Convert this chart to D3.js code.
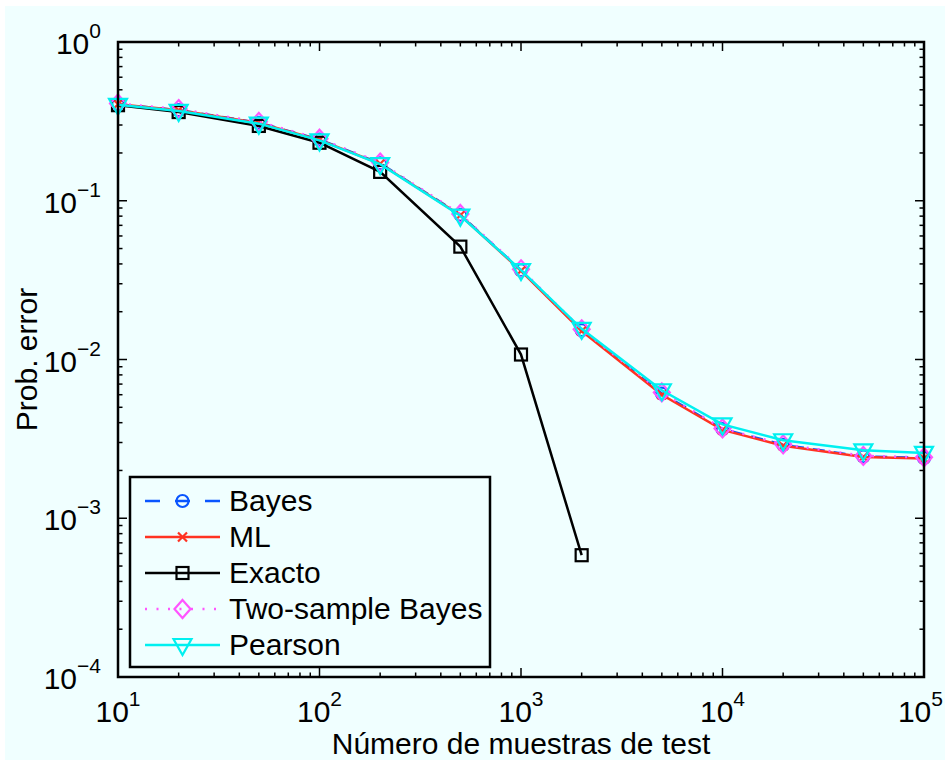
<!DOCTYPE html>
<html>
<head>
    <meta charset="utf-8">
    <title>Prob. error</title>
    <script src="https://d3js.org/d3.v7.min.js"></script>
    <style>
        body { margin: 0; background: #fff; }
        svg text { font-family: "Liberation Sans", Arial, sans-serif; fill: #000; }
    </style>
</head>
<body>
    <svg></svg>
    <script>
        // Datos
        const muestras = [10, 20, 50, 100, 200, 500, 1000, 2000, 5000, 10000, 20000, 50000, 100000];
        const bayes    = [0.405, 0.372, 0.310, 0.243, 0.172, 0.0815, 0.0365, 0.0153, 0.0061, 0.00365, 0.00290, 0.00245, 0.00240];
        const ml       = [0.405, 0.372, 0.309, 0.242, 0.171, 0.0810, 0.0362, 0.0151, 0.0060, 0.00360, 0.00286, 0.00243, 0.00238];
        const exactoX  = [10, 20, 50, 100, 200, 500, 1000, 2000];
        const exacto   = [0.400, 0.362, 0.296, 0.232, 0.152, 0.0514, 0.01075, 0.000585];
        const twoBayes = [0.410, 0.378, 0.314, 0.246, 0.174, 0.0825, 0.0370, 0.0155, 0.0062, 0.00368, 0.00292, 0.00247, 0.00242];
        const pearson  = [0.402, 0.368, 0.306, 0.240, 0.170, 0.0805, 0.0366, 0.0156, 0.0064, 0.00390, 0.00310, 0.00268, 0.00258];

        const yTicks = [1, 0.1, 0.01, 0.001, 0.0001];
        const xTicks = [10, 100, 1000, 10000, 100000];

        const width = 945, height = 760;
        const margin = { left: 118, right: 21, top: 42, bottom: 83 };

        const svg = d3.select("svg").attr("width", width).attr("height", height);

        // fondo de la figura
        svg.append("rect")
            .attr("x", 5).attr("y", 6)
            .attr("width", width - 5).attr("height", height - 6)
            .attr("fill", "#f0ffff");

        const x = d3.scaleLog().domain([10, 1e5]).range([margin.left, width - margin.right]);
        const y = d3.scaleLog().domain([1e-4, 1]).range([height - margin.bottom, margin.top]);

        const x0 = x.range()[0], x1 = x.range()[1];
        const y0 = y.range()[0], y1 = y.range()[1];

        // Marcas menores y mayores (hacia dentro, en los cuatro lados)
        const ticksG = svg.append("g").attr("stroke", "#000").attr("stroke-width", 1.5);
        const minorX = [], minorY = [];
        for (let e = 1; e < 5; e++) for (let k = 2; k < 10; k++) minorX.push(k * Math.pow(10, e));
        for (let e = -4; e < 0; e++) for (let k = 2; k < 10; k++) minorY.push(k * Math.pow(10, e));

        minorX.forEach(v => {
            ticksG.append("line").attr("x1", x(v)).attr("x2", x(v)).attr("y1", y0).attr("y2", y0 - 4.5);
            ticksG.append("line").attr("x1", x(v)).attr("x2", x(v)).attr("y1", y1).attr("y2", y1 + 4.5);
        });
        xTicks.forEach(v => {
            ticksG.append("line").attr("x1", x(v)).attr("x2", x(v)).attr("y1", y0).attr("y2", y0 - 9);
            ticksG.append("line").attr("x1", x(v)).attr("x2", x(v)).attr("y1", y1).attr("y2", y1 + 9);
        });
        minorY.forEach(v => {
            ticksG.append("line").attr("y1", y(v)).attr("y2", y(v)).attr("x1", x0).attr("x2", x0 + 4.5);
            ticksG.append("line").attr("y1", y(v)).attr("y2", y(v)).attr("x1", x1).attr("x2", x1 - 4.5);
        });
        yTicks.forEach(v => {
            ticksG.append("line").attr("y1", y(v)).attr("y2", y(v)).attr("x1", x0).attr("x2", x0 + 9);
            ticksG.append("line").attr("y1", y(v)).attr("y2", y(v)).attr("x1", x1).attr("x2", x1 - 9);
        });

        // Etiquetas de los ejes (10^n)
        function powLabel(sel, v) {
            const e = Math.round(Math.log10(v));
            sel.append("tspan").text("10");
            sel.append("tspan")
                .attr("dy", -16)
                .style("font-size", "21px")
                .text(e < 0 ? "\u2212" + (-e) : e);
        }

        xTicks.forEach((v, i) => {
            const last = i === xTicks.length - 1;
            const t = svg.append("text")
                .attr("x", last ? width - 2 : x(v))
                .attr("y", 722)
                .attr("text-anchor", last ? "end" : "middle")
                .style("font-size", "30px");
            powLabel(t, v);
        });

        yTicks.forEach(v => {
            const t = svg.append("text")
                .attr("x", 101)
                .attr("y", y(v) + 12)
                .attr("text-anchor", "end")
                .style("font-size", "30px");
            powLabel(t, v);
        });

        svg.append("text")
            .attr("x", (x0 + x1) / 2)
            .attr("y", 754)
            .attr("text-anchor", "middle")
            .style("font-size", "30px")
            .text("Número de muestras de test");

        svg.append("text")
            .attr("transform", `translate(37,${(y0 + y1) / 2}) rotate(-90)`)
            .attr("text-anchor", "middle")
            .style("font-size", "30px")
            .text("Prob. error");

        // Series
        const series = [
            { name: "Bayes", xs: muestras, ys: bayes, color: "#0a55ff", dash: "12,9", legDash: "15,15", marker: "circle" },
            { name: "ML", xs: muestras, ys: ml, color: "#ff3322", dash: null, legDash: null, marker: "x" },
            { name: "Exacto", xs: exactoX, ys: exacto, color: "#000000", dash: null, legDash: null, marker: "square" },
            { name: "Two-sample Bayes", xs: muestras, ys: twoBayes, color: "#ff55ff", dash: "2,9", legDash: "2,9.5", marker: "diamond" },
            { name: "Pearson", xs: muestras, ys: pearson, color: "#00f0f0", dash: null, legDash: null, marker: "triangle" }
        ];

        function drawMarker(g, type, color) {
            if (type === "circle") {
                g.append("circle").attr("r", 6).attr("fill", "none").attr("stroke", color).attr("stroke-width", 2.2);
            } else if (type === "x") {
                g.append("path").attr("d", "M-4.5,-4.5L4.5,4.5M-4.5,4.5L4.5,-4.5").attr("stroke", color).attr("stroke-width", 2.2);
            } else if (type === "square") {
                g.append("rect").attr("x", -6).attr("y", -6).attr("width", 12).attr("height", 12)
                    .attr("fill", "none").attr("stroke", color).attr("stroke-width", 2.2);
            } else if (type === "diamond") {
                g.append("path").attr("d", "M0,-9L8,0L0,9L-8,0Z").attr("fill", "none").attr("stroke", color).attr("stroke-width", 2.2);
            } else if (type === "triangle") {
                g.append("path").attr("d", "M-9,-6L9,-6L0,10Z").attr("fill", "none").attr("stroke", color).attr("stroke-width", 2.2);
            }
        }

        const line = d3.line().x(d => x(d[0])).y(d => y(d[1]));

        series.forEach(s => {
            const pts = s.xs.map((v, i) => [v, s.ys[i]]);
            svg.append("path")
                .datum(pts)
                .attr("d", line)
                .attr("fill", "none")
                .attr("stroke", s.color)
                .attr("stroke-width", 2.5)
                .attr("stroke-dasharray", s.dash);
            pts.forEach(p => {
                const g = svg.append("g").attr("transform", `translate(${x(p[0])},${y(p[1])})`);
                drawMarker(g, s.marker, s.color);
            });
        });

        // Caja de ejes
        svg.append("rect")
            .attr("x", x0).attr("y", y1)
            .attr("width", x1 - x0).attr("height", y0 - y1)
            .attr("fill", "none").attr("stroke", "#000").attr("stroke-width", 2.5);

        // Leyenda
        const legend = svg.append("g");
        legend.append("rect")
            .attr("x", 130).attr("y", 477)
            .attr("width", 360).attr("height", 190)
            .attr("fill", "#f0ffff").attr("stroke", "#000").attr("stroke-width", 2.5);

        series.forEach((s, i) => {
            const ly = 501 + i * 36;
            legend.append("line")
                .attr("x1", 145).attr("x2", 220)
                .attr("y1", ly).attr("y2", ly)
                .attr("stroke", s.color).attr("stroke-width", 2.5)
                .attr("stroke-dasharray", s.legDash);
            const g = legend.append("g").attr("transform", `translate(182.5,${ly})`);
            drawMarker(g, s.marker, s.color);
            legend.append("text")
                .attr("x", 229).attr("y", ly + 10)
                .style("font-size", "30px")
                .text(s.name);
        });
    </script>
</body>
</html>
